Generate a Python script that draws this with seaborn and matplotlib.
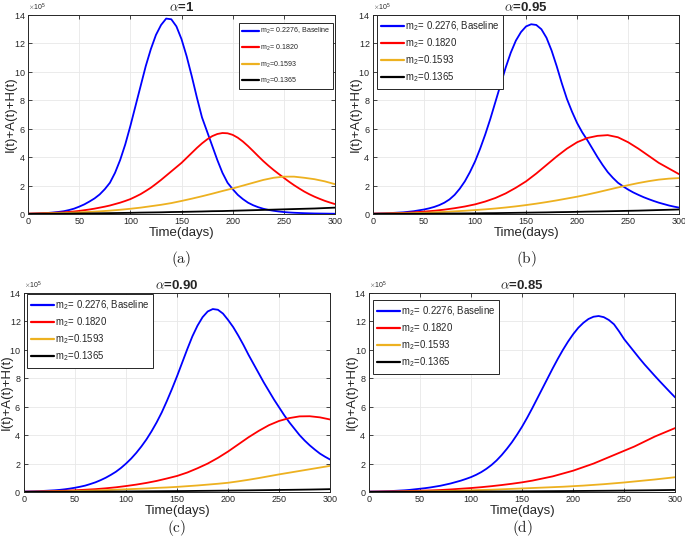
import numpy as np
import pandas as pd
import seaborn as sns
import matplotlib.pyplot as plt
from matplotlib.ticker import ScalarFormatter

# time grids (days)
t10 = list(range(0, 301, 10))
t5 = list(range(0, 301, 5))

# values in units of 1e5
# alpha = 1
a_blue = [0.02, 0.03, 0.04, 0.06, 0.08, 0.11, 0.15, 0.2, 0.28, 0.38, 0.52, 0.68, 0.88, 1.1, 1.38, 1.75,
          2.2, 2.9, 3.8, 4.9, 6.2, 7.6, 9.0, 10.4, 11.6, 12.6, 13.3, 13.75, 13.7, 13.2, 12.3, 11.1,
          9.7, 8.2, 6.8, 5.8, 4.8, 3.8, 2.9, 2.2, 1.75, 1.35, 1.05, 0.8, 0.62, 0.48, 0.37, 0.29,
          0.23, 0.18, 0.14, 0.11, 0.09, 0.075, 0.06, 0.05, 0.04, 0.035, 0.03, 0.025, 0.02]
a_red = [0.03, 0.04, 0.05, 0.06, 0.07, 0.085, 0.1, 0.12, 0.15, 0.18, 0.22, 0.27, 0.32, 0.38, 0.45, 0.52,
         0.6, 0.7, 0.8, 0.92, 1.05, 1.22, 1.4, 1.62, 1.85, 2.12, 2.4, 2.7, 3.0, 3.3, 3.6, 3.95,
         4.3, 4.65, 4.97, 5.25, 5.48, 5.63, 5.7, 5.68, 5.57, 5.37, 5.1, 4.78, 4.43, 4.07, 3.72, 3.4,
         3.1, 2.82, 2.55, 2.28, 2.03, 1.8, 1.58, 1.39, 1.22, 1.07, 0.93, 0.81, 0.7]
a_yellow = [0.02, 0.03, 0.05, 0.07, 0.09, 0.12, 0.15, 0.19, 0.24, 0.3, 0.37, 0.45, 0.55, 0.65, 0.77,
            0.92, 1.08, 1.25, 1.43, 1.62, 1.8, 2.0, 2.2, 2.4, 2.55, 2.63, 2.63, 2.55, 2.45, 2.3, 2.1]
a_black = [0.01, 0.015, 0.02, 0.025, 0.03, 0.04, 0.045, 0.055, 0.065, 0.075, 0.085, 0.1, 0.11, 0.12, 0.14,
           0.15, 0.165, 0.18, 0.2, 0.21, 0.23, 0.25, 0.27, 0.29, 0.31, 0.33, 0.35, 0.37, 0.39, 0.42, 0.45]

# alpha = 0.95
b_blue = [0.03, 0.04, 0.05, 0.06, 0.08, 0.1, 0.12, 0.16, 0.2, 0.26, 0.32, 0.4, 0.5, 0.63, 0.8, 1.03,
          1.35, 1.78, 2.3, 2.95, 3.7, 4.6, 5.6, 6.7, 7.9, 9.1, 10.3, 11.35, 12.2, 12.8, 13.2, 13.35,
          13.3, 13.0, 12.4, 11.5, 10.4, 9.2, 8.1, 7.2, 6.4, 5.75, 5.2, 4.6, 4.0, 3.45, 2.95, 2.55,
          2.2, 1.95, 1.72, 1.52, 1.35, 1.19, 1.05, 0.92, 0.8, 0.7, 0.6, 0.52, 0.45]
b_red = [0.03, 0.04, 0.06, 0.08, 0.12, 0.17, 0.23, 0.31, 0.41, 0.53, 0.68, 0.88, 1.13, 1.45, 1.85,
         2.3, 2.85, 3.45, 4.05, 4.6, 5.05, 5.35, 5.5, 5.55, 5.4, 5.05, 4.6, 4.1, 3.6, 3.2, 2.8]
b_yellow = [0.02, 0.03, 0.04, 0.05, 0.07, 0.09, 0.12, 0.15, 0.19, 0.23, 0.28, 0.33, 0.39, 0.46, 0.54,
            0.63, 0.73, 0.84, 0.96, 1.09, 1.22, 1.37, 1.53, 1.7, 1.87, 2.03, 2.18, 2.31, 2.42, 2.49, 2.53]
b_black = [0.01, 0.012, 0.015, 0.018, 0.02, 0.025, 0.03, 0.035, 0.04, 0.045, 0.05, 0.06, 0.065, 0.075, 0.085,
           0.095, 0.105, 0.115, 0.13, 0.14, 0.155, 0.17, 0.18, 0.195, 0.21, 0.225, 0.24, 0.26, 0.28, 0.3, 0.32]

# alpha = 0.90
c_blue = [0.03, 0.04, 0.05, 0.06, 0.08, 0.1, 0.12, 0.15, 0.19, 0.24, 0.3, 0.37, 0.45, 0.56, 0.68, 0.83,
          1.0, 1.2, 1.42, 1.69, 2.0, 2.35, 2.75, 3.2, 3.7, 4.27, 4.9, 5.6, 6.4, 7.25, 8.15, 9.1,
          10.05, 10.95, 11.7, 12.3, 12.7, 12.87, 12.82, 12.55, 12.1, 11.6, 11.0, 10.35, 9.65, 9.0, 8.35, 7.7,
          7.1, 6.5, 5.95, 5.4, 4.9, 4.45, 4.0, 3.62, 3.28, 2.98, 2.7, 2.48, 2.28]
c_red = [0.02, 0.03, 0.05, 0.07, 0.09, 0.12, 0.16, 0.2, 0.26, 0.33, 0.42, 0.52, 0.64, 0.78, 0.95,
         1.13, 1.37, 1.67, 2.0, 2.4, 2.85, 3.35, 3.85, 4.3, 4.7, 5.0, 5.2, 5.32, 5.33, 5.25, 5.1]
c_yellow = [0.01, 0.02, 0.03, 0.04, 0.05, 0.07, 0.09, 0.11, 0.13, 0.16, 0.19, 0.22, 0.25, 0.29, 0.32,
            0.36, 0.41, 0.46, 0.52, 0.58, 0.65, 0.75, 0.86, 0.98, 1.11, 1.24, 1.36, 1.48, 1.6, 1.72, 1.84]
c_black = [0.01, 0.01, 0.012, 0.015, 0.018, 0.02, 0.024, 0.028, 0.032, 0.036, 0.04, 0.045, 0.05, 0.055, 0.06,
           0.065, 0.07, 0.078, 0.085, 0.092, 0.1, 0.108, 0.116, 0.125, 0.134, 0.143, 0.152, 0.162, 0.172, 0.185, 0.2]

# alpha = 0.85
d_blue = [0.03, 0.035, 0.04, 0.05, 0.06, 0.08, 0.1, 0.12, 0.15, 0.19, 0.23, 0.27, 0.32, 0.38, 0.44, 0.52,
          0.6, 0.7, 0.8, 0.92, 1.05, 1.21, 1.4, 1.63, 1.9, 2.22, 2.6, 3.03, 3.5, 4.03, 4.6, 5.23,
          5.9, 6.6, 7.3, 8.0, 8.7, 9.37, 10.0, 10.58, 11.1, 11.55, 11.9, 12.17, 12.33, 12.38, 12.3, 12.1,
          11.8, 11.3, 10.75, 10.3, 9.85, 9.4, 8.97, 8.57, 8.17, 7.78, 7.4, 7.02, 6.65]
d_red = [0.02, 0.03, 0.04, 0.05, 0.07, 0.09, 0.11, 0.14, 0.18, 0.23, 0.28, 0.34, 0.41, 0.49, 0.58,
         0.68, 0.8, 0.95, 1.1, 1.3, 1.5, 1.75, 2.0, 2.3, 2.6, 2.9, 3.2, 3.55, 3.9, 4.2, 4.5]
d_yellow = [0.01, 0.015, 0.02, 0.03, 0.04, 0.05, 0.06, 0.07, 0.08, 0.1, 0.12, 0.14, 0.16, 0.19, 0.22,
            0.25, 0.28, 0.31, 0.34, 0.37, 0.41, 0.45, 0.5, 0.55, 0.61, 0.67, 0.74, 0.81, 0.88, 0.96, 1.04]
d_black = [0.01, 0.01, 0.011, 0.013, 0.015, 0.017, 0.02, 0.022, 0.025, 0.028, 0.031, 0.034, 0.037, 0.04, 0.044,
           0.048, 0.052, 0.056, 0.06, 0.065, 0.07, 0.076, 0.082, 0.088, 0.095, 0.102, 0.11, 0.118, 0.126, 0.135, 0.145]

series_names = [r"m$_\mathregular{2}$= 0.2276, Baseline", r"m$_\mathregular{2}$= 0.1820",
                r"m$_\mathregular{2}$=0.1593", r"m$_\mathregular{2}$=0.1365"]
colors = ["#0000ff", "#ff0000", "#edb120", "#000000"]
titles = [r"$\alpha$=1", r"$\alpha$=0.95", r"$\alpha$=0.90", r"$\alpha$=0.85"]
labels = ["(a)", "(b)", "(c)", "(d)"]

panels = [
    [(t5, a_blue), (t5, a_red), (t10, a_yellow), (t10, a_black)],
    [(t5, b_blue), (t10, b_red), (t10, b_yellow), (t10, b_black)],
    [(t5, c_blue), (t10, c_red), (t10, c_yellow), (t10, c_black)],
    [(t5, d_blue), (t10, d_red), (t10, d_yellow), (t10, d_black)],
]

sns.set_theme(style="whitegrid")
plt.rcParams['font.family'] = ['Liberation Sans', 'DejaVu Sans']
plt.rcParams['mathtext.fontset'] = 'cm'

fig = plt.figure(figsize=(6.85, 5.46), dpi=100)
positions = [
    [0.041, 0.608, 0.448, 0.3645],
    [0.5445, 0.608, 0.447, 0.3645],
    [0.035, 0.0989, 0.447, 0.3645],
    [0.5387, 0.0989, 0.447, 0.3645],
]
label_y = [0.5256, 0.5256, 0.033, 0.033]
legend_locs = ["upper right", "upper left", "upper left", "upper left"]
legend_anchor = [(0.994, 0.96), (0.013, 1.0), (0.01, 0.995), (0.013, 0.965)]
legend_sizes = [5.1, 6.9, 6.9, 6.9]
legend_spacing = [0.9, 0.38, 0.38, 0.38]

for i, curves in enumerate(panels):
    ax = fig.add_axes(positions[i])
    rows = []
    for name, (tt_list, v) in zip(series_names, curves):
        for tt, vv in zip(tt_list, v):
            rows.append({"t": tt, "val": vv * 1e5, "series": name})
    df = pd.DataFrame(rows)
    sns.lineplot(data=df, x="t", y="val", hue="series", hue_order=series_names,
                 palette=colors, linewidth=1.3, ax=ax)

    ax.set_xlim(0, 300)
    ax.set_ylim(0, 14e5)
    ax.set_xticks(range(0, 301, 50))
    ax.set_yticks(np.arange(0, 14.1e5, 2e5))
    fmt = ScalarFormatter(useMathText=True)
    fmt.set_powerlimits((5, 5))
    ax.yaxis.set_major_formatter(fmt)
    ax.yaxis.get_offset_text().set_fontsize(5)
    ax.tick_params(labelsize=6.5, direction="in", length=3, width=0.6,
                   top=True, right=True, bottom=True, left=True, pad=2,
                   colors="#262626")
    ax.grid(True, color="#e8e8e8", linewidth=0.6)
    for s in ax.spines.values():
        s.set_color("#262626")
        s.set_linewidth(0.7)
    ax.set_xlabel("Time(days)", fontsize=9.5, labelpad=1)
    ax.set_ylabel("I(t)+A(t)+H(t)", fontsize=9.5)
    ax.yaxis.set_label_coords(-0.036, 0.5)
    ax.set_title(titles[i], fontsize=9.5, fontweight="bold", pad=3)

    leg = ax.legend(loc=legend_locs[i], bbox_to_anchor=legend_anchor[i],
                    fontsize=legend_sizes[i], frameon=True,
                    fancybox=False, framealpha=1, edgecolor="#262626",
                    handlelength=2.4, handletextpad=0.05, labelspacing=legend_spacing[i],
                    borderaxespad=0, borderpad=0.45)
    leg.get_frame().set_linewidth(0.7)
    for line in leg.get_lines():
        line.set_linewidth(1.6)

    pos = positions[i]
    fig.text(pos[0] + pos[2] / 2, label_y[i], r"$\mathrm{" + labels[i] + "}$",
             ha="center", va="center", fontsize=11)

fig.savefig("out.png", dpi=100)
